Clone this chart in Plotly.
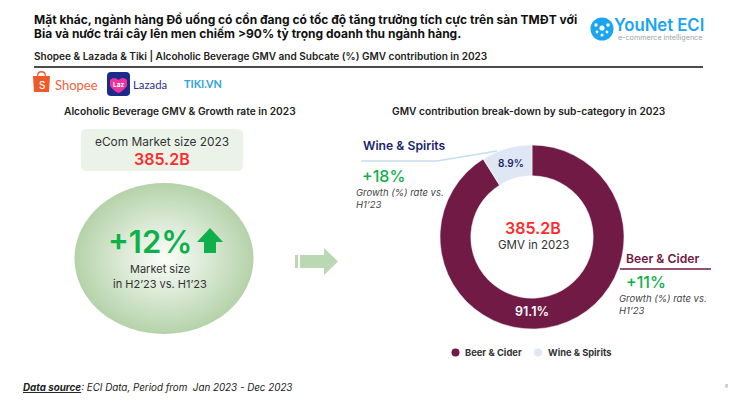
import plotly.graph_objects as go

# ---------- data ----------
categories = ["Beer & Cider", "Wine & Spirits"]
shares = [91.1, 8.9]
growth_labels = ["+11%", "+18%"]
market_size = "385.2B"
market_growth = "+12%"

FONT = "Inter"
DARK = "#1f1f1f"
MAROON = "#701A45"
LIGHT = "#DEE7F3"
NAVY = "#1B1F6B"
GREEN = "#0DB04B"
RED = "#FF2B2B"
W, H = 730, 411

shapes, annos = [], []


def txt(x, y, s, size=11, color=DARK, weight=400, anchor="left", style="normal", family=FONT):
    annos.append(dict(x=x, y=y, xref="x", yref="y", text=s, showarrow=False, xanchor=anchor,
                      yanchor="middle", borderpad=0, borderwidth=0,
                      font=dict(family=family, size=size, color=color, weight=weight, style=style)))


def path(d, fill=None, line=None, lw=0, layer="above"):
    shapes.append(dict(type="path", path=d, xref="x", yref="y", fillcolor=fill or "rgba(0,0,0,0)",
                       line=dict(color=line or "rgba(0,0,0,0)", width=lw), layer=layer))


def ellipse(cx, cy, rx, ry, fill, layer="above"):
    shapes.append(dict(type="circle", xref="x", yref="y", x0=cx - rx, x1=cx + rx, y0=cy - ry, y1=cy + ry,
                       fillcolor=fill, line=dict(width=0), layer=layer))


def round_rect(x0, y0, x1, y1, r, fill):
    path(f"M{x0+r},{y0} L{x1-r},{y0} Q{x1},{y0} {x1},{y0+r} L{x1},{y1-r} Q{x1},{y1} {x1-r},{y1} "
         f"L{x0+r},{y1} Q{x0},{y1} {x0},{y1-r} L{x0},{y0+r} Q{x0},{y0} {x0+r},{y0} Z", fill)


# ---------- header ----------
txt(34, 19.5, "Mặt khác, ngành hàng Đồ uống có cồn đang có tốc độ tăng trưởng tích cực trên sàn TMĐT với", 12.0, "#111", 700)
txt(34, 33.5, "Bia và nước trái cây lên men chiếm >90% tỷ trọng doanh thu ngành hàng.", 12.0, "#111", 700)
txt(34, 56, "Shopee & Lazada & Tiki | Alcoholic Beverage GMV and Subcate (%) GMV contribution in 2023", 10.05, "#222", 600)
path("M34,67 L703,67", line="#111", lw=1.5)

# Shopee logo
path("M33,76 L50,76 L49,92 L34,92 Z M37,76 Q37,71 41.5,71 Q46,71 46,76 L44.8,76 Q44.8,72.4 41.5,72.4 Q38.2,72.4 38.2,76 Z", "#F05A2B")
txt(41.5, 84.5, "S", 10, "#ffffff", 500, "center")
txt(55, 85, "Shopee", 13, "#F0633A", 400, family="Lato")
# Lazada logo
round_rect(107, 72, 130, 96, 4, "#1C2A8C")
path("M110,80 Q114,76 118.5,80 Q123,76 127,80 L127,86 Q122,92 118.5,93 Q115,92 110,86 Z", "#F0339A")
txt(118.5, 84.5, "Laz", 6.5, "#ffffff", 700, "center")
txt(133, 84, "Lazada", 11.3, "#2B2F86", 400, family="Lato")
# Tiki logo
txt(184, 83.5, "TIKI.VN", 10.8, "#2BA4E0", 700, family="Lato")
# YouNet logo
ellipse(602, 29, 11.5, 11.5, "#1BA5EE")
for dx, dy, r in [(0, -1, 2.6), (-6, -4, 1.7), (6, -4, 1.7), (-5, 3, 1.4), (5, 3, 1.4), (0, 6, 1.6)]:
    ellipse(602 + dx, 29 + dy, r, r, "#ffffff")
txt(614, 24.5, "YouNet ECI", 16.7, "#1BA5EE", 600)
txt(618, 37, "e-commerce intelligence", 7.2, "#9AA3AD", 400)

# ---------- left panel ----------
txt(180, 111, "Alcoholic Beverage GMV & Growth rate in 2023", 10.2, "#222", 600, "center")
round_rect(81, 129, 243, 171, 6, "#EBF3E9")
txt(162, 141.5, "eCom Market size 2023", 11.9, "#333", 400, "center")
txt(162, 158.5, market_size, 16, RED, 600, "center")

# soft green radial disc drawn as stacked ellipses
cx, cy, rx, ry = 164, 258.5, 89, 75
edge, core = (181, 211, 170), (252, 253, 251)
steps = 45
for i in range(steps):
    t = i / (steps - 1)
    k = 1 - t
    c = tuple(round(edge[j] + (core[j] - edge[j]) * t ** 0.95) for j in range(3))
    ellipse(cx, cy, rx * k + 0.5, ry * k + 0.5, f"rgb{c}")

txt(150, 241, market_growth, 31, GREEN, 600, "center")
path("M210,228 L223,242 L216,242 L216,253 L204,253 L204,242 L197,242 Z", GREEN)
txt(160, 269, "Market size", 11, "#333", 400, "center")
txt(160, 283.5, "in H2’23 vs. H1’23", 11, "#333", 400, "center")

# big arrow
path("M295,255 L298,255 L298,268 L295,268 Z M300,255 L324,255 L324,248 L338,261.5 L324,275 L324,268 L300,268 Z", "#BAD9B2")

# ---------- right panel ----------
txt(528, 111, "GMV contribution break-down by sub-category in 2023", 10.2, "#222", 600, "center")

pcx, pcy, pr = 532, 237, 92
fig = go.Figure(go.Pie(
    labels=categories, values=shares, hole=0.665, sort=False, direction="clockwise", rotation=0,
    marker=dict(colors=[MAROON, LIGHT], line=dict(color="#ffffff", width=0.5)),
    texttemplate="%{value}%", textposition="inside", insidetextorientation="horizontal",
    insidetextfont=dict(family=FONT, size=[12.5, 10], weight=600, color=["#ffffff", NAVY]),
    domain=dict(x=[(pcx - pr) / W, (pcx + pr) / W], y=[1 - (pcy + pr) / H, 1 - (pcy - pr) / H]),
    showlegend=False, hoverinfo="label+percent",
))

txt(533, 228, market_size, 16, RED, 600, "center")
txt(533, 244.5, "GMV in 2023", 11.5, "#333", 400, "center")

# Wine & Spirits callout
txt(363, 145.5, categories[1], 12.2, NAVY, 600)
path("M361,161 L437,161 L497,151", line="#C8DCF0", lw=1.5)
txt(362, 176, growth_labels[1], 16, GREEN, 500)
txt(356, 192, "Growth (%) rate vs.", 9.5, "#444", 400, style="italic")
txt(356, 204, "H1’23", 9.5, "#444", 400, style="italic")

# Beer & Cider callout
txt(626, 258, categories[0], 12.2, MAROON, 600)
path("M620,269 L711,269", line=MAROON, lw=1.5)
txt(626, 282, growth_labels[0], 16, GREEN, 500)
txt(619, 298, "Growth (%) rate vs.", 9.5, "#444", 400, style="italic")
txt(619, 310, "H1’23", 9.5, "#444", 400, style="italic")

# legend
ellipse(455.5, 352.5, 4, 4, MAROON)
txt(465, 352.5, categories[0], 9.4, "#333", 700)
ellipse(538, 352.5, 4, 4, LIGHT)
txt(547.5, 352.5, categories[1], 9.3, "#333", 700)

# footer
txt(23, 387, "<b><i><u>Data source</u></i></b><i>: ECI Data, Period from  Jan 2023 - Dec 2023</i>", 9.8, "#222", 400)
txt(726, 386, "6", 5, "#999", 400, "center")

fig.update_layout(
    width=W, height=H, margin=dict(l=0, r=0, t=0, b=0), paper_bgcolor="#ffffff", plot_bgcolor="#ffffff",
    xaxis=dict(range=[0, W], visible=False, fixedrange=True),
    yaxis=dict(range=[H, 0], visible=False, fixedrange=True),
    shapes=shapes, annotations=annos, showlegend=False,
)
fig.write_html("out.html", config=dict(displayModeBar=False),
               post_script="document.body.style.margin='0';document.body.style.overflow='hidden';")
